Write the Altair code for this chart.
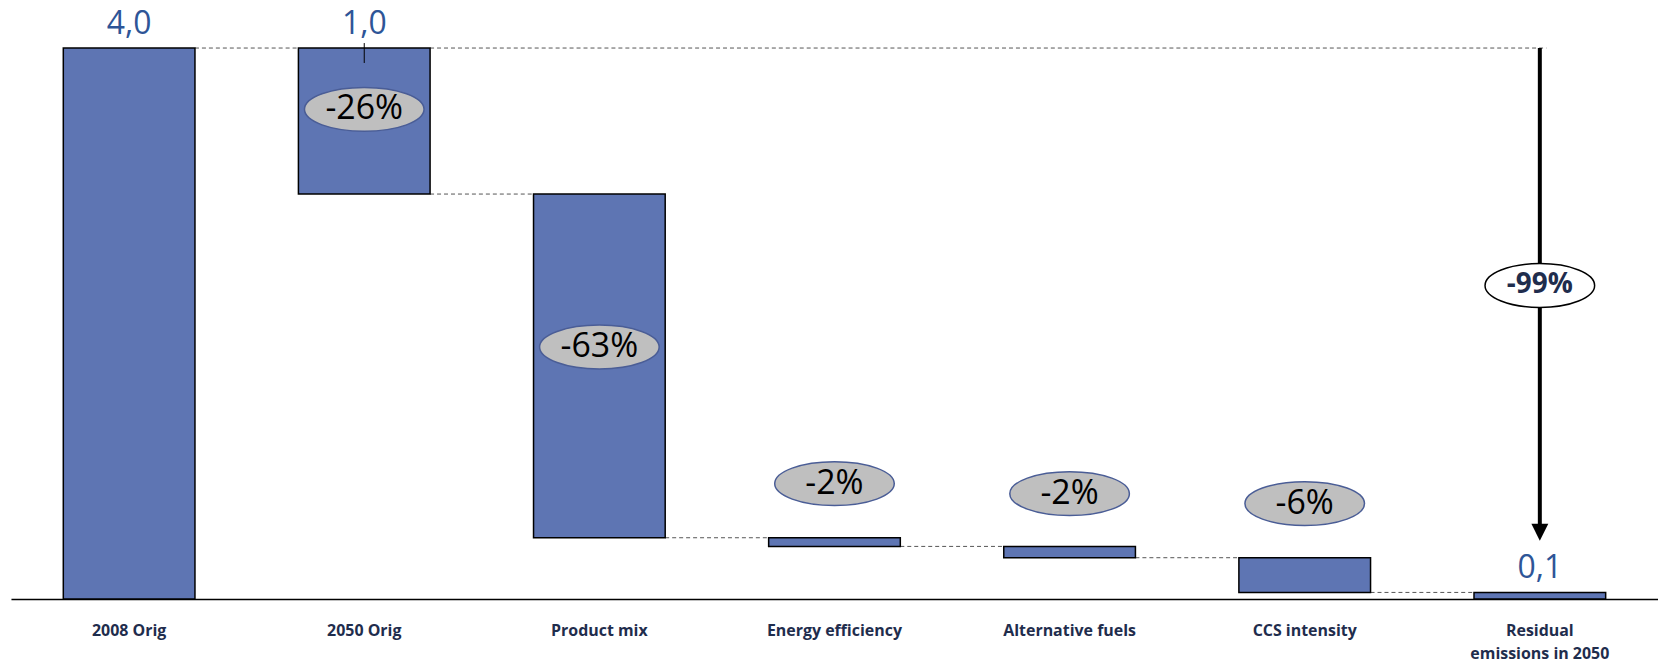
import altair as alt
import pandas as pd

# ---------------- data ----------------
categories = ["2008 Orig", "2050 Orig", "Product mix", "Energy efficiency",
              "Alternative fuels", "CCS intensity", "Residual\nemissions in 2050"]
bar_top = [4.0, 4.0, 2.94, 0.445, 0.382, 0.30, 0.048]
bar_bottom = [0.0, 2.94, 0.445, 0.382, 0.30, 0.048, 0.0]
change_labels = ["", "-26%", "-63%", "-2%", "-2%", "-6%", ""]
change_label_level = [0.0, 3.555, 1.83, 0.838, 0.765, 0.693, 0.0]
value_labels = ["4,0", "1,0", "", "", "", "", "0,1"]
total_change_label = "-99%"
total_change_level = 2.276
arrow_tip_level = 0.424

bars = pd.DataFrame({
    "cat": categories, "top": bar_top, "bottom": bar_bottom,
    "chg": change_labels, "chg_y": change_label_level, "val": value_labels,
})
conn = pd.DataFrame({
    "from": categories[:-1], "to": categories[1:], "level": bar_top[1:],
})
top_line = pd.DataFrame({"from": [categories[1]], "to": [categories[-1]], "level": [bar_top[0]]})
arrow = pd.DataFrame({"cat": [categories[-1]], "top": [bar_top[0]], "tip": [arrow_tip_level],
                      "lab": [total_change_label], "lab_y": [total_change_level]})

# ---------------- styling ----------------
BAR = "#5E75B3"
xscale = alt.Scale(domain=categories, paddingInner=0.44, paddingOuter=0.2226, round=False)
yscale = alt.Scale(domain=[0, 4.34], nice=False, zero=True)


def X(field, **kw):
    return alt.X(field, type="nominal", scale=xscale, title=None, sort=None, **kw)


def Y(field):
    return alt.Y(field, type="quantitative", scale=yscale, axis=None)


ellipse = "M-1,0A1,0.367 0 1,1 1,0A1,0.367 0 1,1 -1,0Z"
ellipse2 = "M-1,0A1,0.40 0 1,1 1,0A1,0.40 0 1,1 -1,0Z"
arrowhead = "M-1,-2L1,-2L0,0Z"

bar_layer = alt.Chart(bars).mark_bar(color=BAR, stroke="black", strokeWidth=1.5).encode(
    x=X("cat"), y=Y("top"), y2="bottom")

conn_layer = alt.Chart(conn).mark_rule(color="#555555", strokeWidth=1, strokeDash=[4, 3]).encode(
    x=X("from", bandPosition=1), x2=alt.X2("to", bandPosition=0), y=Y("level"))

top_layer = alt.Chart(top_line).mark_rule(color="#555555", strokeWidth=1, strokeDash=[4, 3]).encode(
    x=X("from", bandPosition=1), x2=alt.X2("to", bandPosition=0.55), y=Y("level"))

arrow_line = alt.Chart(arrow).mark_rule(color="black", strokeWidth=4, y2Offset=-10).encode(
    x=X("cat"), y=Y("top"), y2="tip")
arrow_head = alt.Chart(arrow).mark_point(shape=arrowhead, size=289, filled=True,
                                         color="black", opacity=1).encode(x=X("cat"), y=Y("tip"))
total_ell = alt.Chart(arrow).mark_point(shape=ellipse2, size=12100, filled=True, fill="white",
                                        stroke="black", strokeWidth=1.5, opacity=1).encode(
    x=X("cat"), y=Y("lab_y"))
total_txt = alt.Chart(arrow).mark_text(font="Open Sans", fontSize=28, fontWeight="bold",
                                       color="#1F2D4D", baseline="middle").encode(
    x=X("cat"), y=Y("lab_y"), text="lab")

chg = alt.Chart(bars).transform_filter("datum.chg != ''")
chg_ell = chg.mark_point(shape=ellipse, size=14400, filled=True, fill="#BFBFBF",
                         stroke="#4A5D96", strokeWidth=1.5, opacity=1).encode(x=X("cat"), y=Y("chg_y"))
chg_txt = chg.mark_text(font="Open Sans", fontSize=34, color="black", baseline="middle").encode(
    x=X("cat"), y=Y("chg_y"), text="chg")

vals = alt.Chart(bars).transform_filter("datum.val != ''")
val_txt = vals.mark_text(font="Open Sans", fontSize=32, color="#2E5597", baseline="middle", dy=-24).encode(
    x=X("cat"), y=Y("top"), text="val")
leader = alt.Chart(bars).transform_filter(f"datum.cat == '{categories[1]}'").mark_rule(
    color="black", strokeWidth=1, yOffset=-5, y2Offset=15).encode(x=X("cat"), y=Y("top"), y2="top")

chart = alt.layer(
    conn_layer, top_layer, bar_layer, leader, val_txt, chg_ell, chg_txt,
    arrow_line, arrow_head, total_ell, total_txt,
).properties(
    width=1653, height=600,
    autosize=alt.AutoSizeParams(type="none"),
    padding={"left": 11, "right": 0, "top": 0, "bottom": 66},
    background="white",
).configure_view(stroke=None).configure_axisX(
    domainColor="black", domainWidth=1.5, ticks=False, grid=False, labelAngle=0,
    labelFont="Open Sans", labelFontWeight="bold", labelFontSize=16, labelColor="#1F2D4D",
    labelBaseline="top", labelPadding=24, labelLineHeight=23,
    labelExpr="split(datum.value, '\\n')",
)

chart.save("out.html", embed_options={"renderer": "svg", "actions": False})
